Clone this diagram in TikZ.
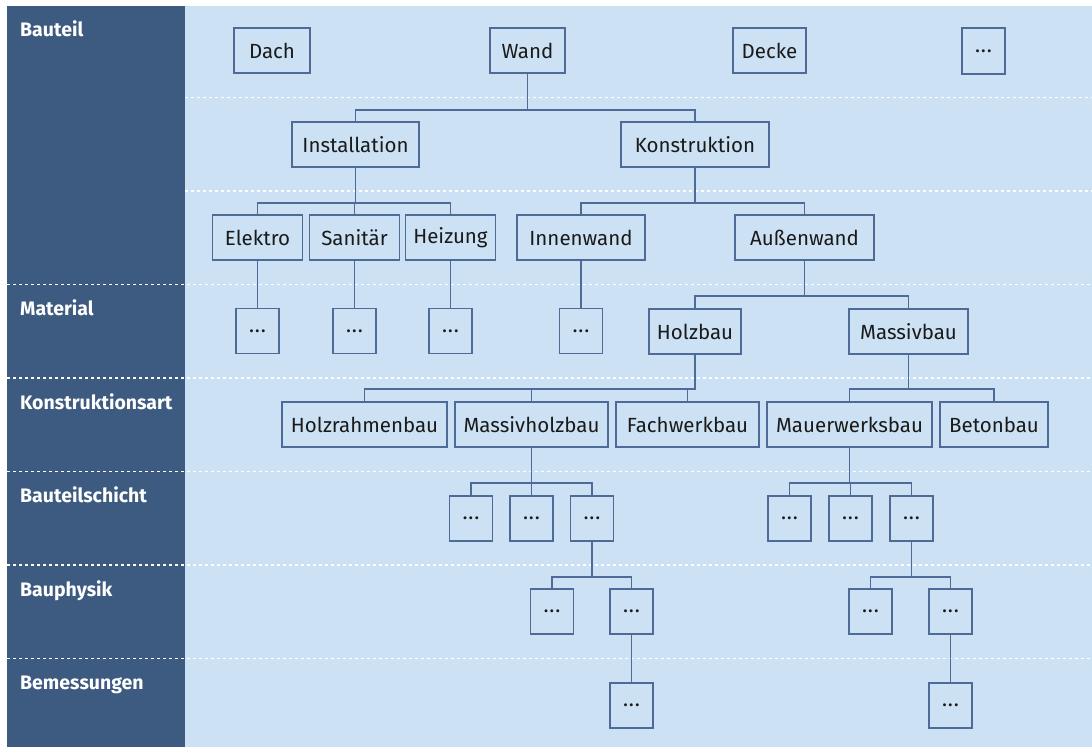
\documentclass[tikz,border=0pt]{standalone}
\usepackage{fontspec}
\setmainfont{Fira Sans}
\definecolor{panel}{HTML}{3D5A80}
\definecolor{lightbg}{HTML}{CCE2F4}
\definecolor{boxc}{HTML}{4E6B98}
\definecolor{txt}{HTML}{1A1A1A}
\newcommand\mydots{.\kern0.8pt.\kern0.8pt.}
\tikzset{
  box/.style={draw=boxc, line width=1.5pt, minimum height=45pt, inner sep=0pt, text=txt,
    font=\fontsize{20.5}{24}\selectfont},
  dots/.style={box, minimum width=43pt, font=\fontsize{21}{24}\selectfont},
  conn/.style={draw=boxc, line width=1.5pt},
  rowline/.style={draw=white, line width=1.1pt, dash pattern=on 3pt off 3pt},
  lbl/.style={anchor=base west, text=white, inner sep=0pt, font=\bfseries\fontsize{19.5}{23}\selectfont}
}
\newcommand\tconn[3]{\draw[conn] (#1.south) -- ++(0,#3) -| (#2.north);}
\begin{document}
\begin{tikzpicture}[x=1pt,y=-1pt]
\useasboundingbox (0,0) rectangle (1092,747);
\fill[white] (0,0) rectangle (1092,747);
\fill[panel] (7,6) rectangle (185,747);
\fill[lightbg] (185,6) rectangle (1092,747);
% row lines
\draw[rowline] (185,97.5) -- (1092,97.5);
\draw[rowline] (185,191) -- (1092,191);
\foreach \yy in {284.5,378,471.5,565,658.5}{\draw[rowline] (7,\yy) -- (1092,\yy);}
% labels
\node[lbl] (l1) at (20,36) {Bauteil};
\node[lbl] (l2) at (20,315.5) {Material};
\node[lbl] (l3) at (20,409) {Konstruktionsart};
\node[lbl] (l4) at (20,502.5) {Bauteilschicht};
\node[lbl] (l5) at (20,596) {Bauphysik};
\node[lbl] (l6) at (20,689.5) {Bemessungen};
% row 1
\node[box, minimum width=76pt] (dach) at (272,50.5) {Dach};
\node[box, minimum width=75pt] (wand) at (527.5,50.5) {Wand};
\node[box, minimum width=73pt] (decke) at (769.5,50.5) {Decke};
\node[dots, minimum height=46pt] (r1d) at (983.5,51) {\mydots};
% row 2
\node[box, minimum width=127pt] (inst) at (355.5,144.5) {Installation};
\node[box, minimum width=148pt] (konstr) at (695,144.5) {Konstruktion};
% row 3
\node[box, minimum width=90pt] (elektro) at (257.5,237.5) {Elektro};
\node[box, minimum width=90pt] (sanitaer) at (354.5,237.5) {Sanitär};
\node[box, minimum width=90pt] (heizung) at (450.5,237.5) {Heizung};
\node[box, minimum width=128pt] (innen) at (581,237.5) {Innenwand};
\node[box, minimum width=139pt] (aussen) at (804.5,237.5) {Außenwand};
% row 4
\node[dots] (del) at (257.5,331) {\mydots};
\node[dots] (dsa) at (354.5,331) {\mydots};
\node[dots] (dhe) at (450.5,331) {\mydots};
\node[dots] (din) at (581,331) {\mydots};
\node[box, minimum width=92pt] (holzbau) at (695,331.5) {Holzbau};
\node[box, minimum width=119pt] (massivbau) at (908.5,331.5) {Massivbau};
% row 5
\node[box, minimum width=165pt] (holzrahmen) at (364.5,424.5) {Holzrahmenbau};
\node[box, minimum width=153pt] (massivholz) at (531.5,424.5) {Massivholzbau};
\node[box, minimum width=143pt] (fachwerk) at (687.5,424.5) {Fachwerkbau};
\node[box, minimum width=165pt] (mauerwerk) at (849.5,424.5) {Mauerwerksbau};
\node[box, minimum width=108pt] (beton) at (994,424.5) {Betonbau};
% row 6
\node[dots] (a1) at (471,518.5) {\mydots};
\node[dots] (a2) at (531.5,518.5) {\mydots};
\node[dots] (a3) at (592,518.5) {\mydots};
\node[dots] (b1) at (789.5,518.5) {\mydots};
\node[dots] (b2) at (850.5,518.5) {\mydots};
\node[dots] (b3) at (911.5,518.5) {\mydots};
% row 7
\node[dots] (c1) at (552,611.5) {\mydots};
\node[dots] (c2) at (631.5,611.5) {\mydots};
\node[dots] (e1) at (870.5,611.5) {\mydots};
\node[dots] (e2) at (950.5,611.5) {\mydots};
% row 8
\node[dots] (f1) at (631.5,705.5) {\mydots};
\node[dots] (g1) at (950.5,705.5) {\mydots};
% connectors
\tconn{wand}{inst}{36}
\tconn{wand}{konstr}{36}
\tconn{inst}{elektro}{35}
\tconn{inst}{sanitaer}{35}
\tconn{inst}{heizung}{35}
\tconn{konstr}{innen}{35}
\tconn{konstr}{aussen}{35}
\draw[conn] (elektro) -- (del);
\draw[conn] (sanitaer) -- (dsa);
\draw[conn] (heizung) -- (dhe);
\draw[conn] (innen) -- (din);
\tconn{aussen}{holzbau}{35}
\tconn{aussen}{massivbau}{35}
\tconn{holzbau}{holzrahmen}{34}
\tconn{holzbau}{massivholz}{34}
\tconn{holzbau}{fachwerk}{34}
\tconn{massivbau}{mauerwerk}{34}
\tconn{massivbau}{beton}{34}
\tconn{massivholz}{a1}{35}
\tconn{massivholz}{a2}{35}
\tconn{massivholz}{a3}{35}
\tconn{mauerwerk}{b1}{35}
\tconn{mauerwerk}{b2}{35}
\tconn{mauerwerk}{b3}{35}
\tconn{a3}{c1}{35}
\tconn{a3}{c2}{35}
\tconn{b3}{e1}{35}
\tconn{b3}{e2}{35}
\draw[conn] (c2) -- (f1);
\draw[conn] (e2) -- (g1);
\end{tikzpicture}
\end{document}
